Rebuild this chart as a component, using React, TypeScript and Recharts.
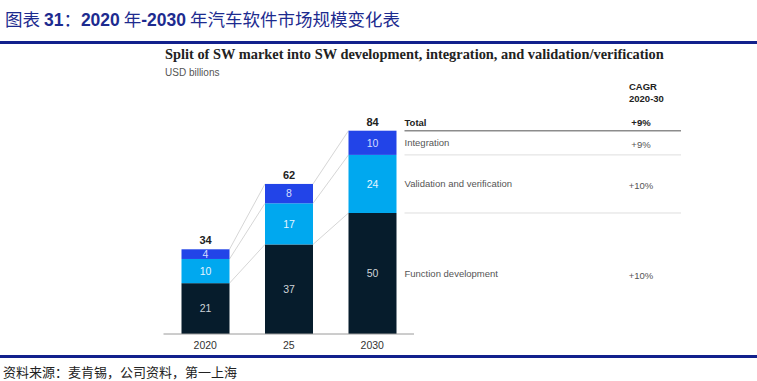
import React from 'react';
import { BarChart, Bar, XAxis, YAxis, LabelList } from 'recharts';

const years = ['2020', '25', '2030'];
const functionDev = [21, 37, 50];
const validation = [10, 17, 24];
const integration = [4, 8, 10];
const totals = [34, 62, 84];
const rowLabels = ['Function development', 'Validation and verification', 'Integration'];
const rowCagr = ['+10%', '+10%', '+9%'];
const totalCagr = '+9%';

const W = 757;
const H = 381;
const MARGIN = { top: 130.7, right: 343, bottom: 17, left: 163.5 };
const BAND = (W - MARGIN.left - MARGIN.right) / years.length;
const TABLE_RIGHT = 681;
const CAGR_X = 641;

const keys = ['func', 'valid', 'integ'];
const colors = ['#061c2c', '#00a8ef', '#2244e8'];
const labelColors = ['#cfd4d9', '#e6f5ff', '#d6dcff'];

const data = years.map((year, i) => ({
  year,
  func: functionDev[i],
  valid: validation[i],
  integ: integration[i],
  total: totals[i],
}));

const cumulative = (row: any, seg: number) =>
  keys.slice(0, seg + 1).reduce((s, k) => s + row[k], 0);

const makeShape = (seg: number) => (props: any) => {
  const { x, y, width, height, index, payload } = props;
  const k = height / payload[keys[seg]];
  const base = y + cumulative(payload, seg) * k;
  const next = data[index + 1];
  const isLast = index === data.length - 1;
  const tx = x + width + 8;

  return (
    <g>
      {next && (
        <line
          x1={x + width}
          y1={y}
          x2={x + BAND}
          y2={base - cumulative(next, seg) * k}
          stroke="#d6d6d6"
          strokeWidth={1}
        />
      )}
      <rect x={x} y={y} width={width} height={height} fill={colors[seg]} />
      {isLast && (
        <g fontSize={9.5}>
          <line
            x1={tx}
            y1={y}
            x2={TABLE_RIGHT}
            y2={y}
            stroke={seg === 2 ? '#8c8c8c' : '#dedede'}
            strokeWidth={seg === 2 ? 1.5 : 1}
          />
          <text x={tx} y={y + height / 2} dominantBaseline="central" fill="#555">
            {rowLabels[seg]}
          </text>
          <text x={CAGR_X} y={y + height / 2 + 2} dominantBaseline="central" textAnchor="middle" fill="#555">
            {rowCagr[seg]}
          </text>
          {seg === 2 && (
            <g fontWeight="bold" fill="#222">
              <text x={tx} y={y - 8} dominantBaseline="central">Total</text>
              <text x={CAGR_X} y={y - 8} dominantBaseline="central" textAnchor="middle">{totalCagr}</text>
              <text x={629} y={y - 44} dominantBaseline="central">CAGR</text>
              <text x={629} y={y - 32} dominantBaseline="central">2020-30</text>
            </g>
          )}
        </g>
      )}
    </g>
  );
};

export default function App() {
  return (
    <div style={{ position: 'absolute', left: 0, top: 0, width: W, height: H, background: '#fff', overflow: 'hidden' }}>
      <BarChart
        width={W}
        height={H}
        data={data}
        margin={MARGIN}
        style={{ position: 'absolute', left: 0, top: 0, fontFamily: '"Liberation Sans", Arial, sans-serif' }}
      >
        <XAxis
          dataKey="year"
          height={30}
          axisLine={{ stroke: '#9a9a9a' }}
          tickLine={false}
          tick={{ fontSize: 10.5, fill: '#333' }}
        />
        <YAxis hide domain={[0, 84]} />
        {keys.map((key, seg) => (
          <Bar key={key} dataKey={key} stackId="a" barSize={48} fill={colors[seg]} shape={makeShape(seg)} isAnimationActive={false}>
            <LabelList dataKey={key} position="center" fill={labelColors[seg]} fontSize={10.5} />
            {seg === 2 && (
              <LabelList dataKey="total" position="top" offset={5} fill="#222" fontSize={11} fontWeight="bold" />
            )}
          </Bar>
        ))}
      </BarChart>

      <div
        style={{
          position: 'absolute',
          left: 5,
          top: 8,
          fontSize: 17.5,
          lineHeight: '22px',
          color: '#1d2b8f',
          fontFamily: '"Noto Sans CJK SC", sans-serif',
          whiteSpace: 'nowrap',
        }}
      >
        图表 <b style={{ fontFamily: '"Liberation Sans", Arial, sans-serif' }}>31</b>：
        <b style={{ fontFamily: '"Liberation Sans", Arial, sans-serif' }}>2020</b> 年
        <b style={{ fontFamily: '"Liberation Sans", Arial, sans-serif' }}>-2030</b> 年汽车软件市场规模变化表
      </div>
      <div style={{ position: 'absolute', left: 0, top: 41, width: W, height: 3, background: '#12208c' }} />
      <div
        style={{
          position: 'absolute',
          left: 165,
          top: 45,
          fontSize: 14.4,
          lineHeight: '18px',
          fontWeight: 'bold',
          fontFamily: '"Liberation Serif", serif',
          color: '#222',
          whiteSpace: 'nowrap',
        }}
      >
        Split of SW market into SW development, integration, and validation/verification
      </div>
      <div
        style={{
          position: 'absolute',
          left: 165,
          top: 66,
          fontSize: 10,
          lineHeight: '14px',
          color: '#555',
          fontFamily: '"Liberation Sans", Arial, sans-serif',
        }}
      >
        USD billions
      </div>
      <div style={{ position: 'absolute', left: 0, top: 355, width: W, height: 2.5, background: '#12208c' }} />
      <div
        style={{
          position: 'absolute',
          left: 3,
          top: 364,
          fontSize: 13,
          lineHeight: '16px',
          color: '#222',
          fontFamily: '"Noto Sans CJK SC", sans-serif',
          whiteSpace: 'nowrap',
        }}
      >
        资料来源：麦肯锡，公司资料，第一上海
      </div>
    </div>
  );
}
